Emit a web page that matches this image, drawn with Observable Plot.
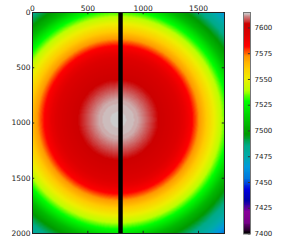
<!DOCTYPE html>
<html>
<head>
<meta charset="utf-8">
<script src="https://cdn.jsdelivr.net/npm/d3@7"></script>
<script src="https://cdn.jsdelivr.net/npm/@observablehq/plot@0.6"></script>
<style>
  body { margin: 0; background: #fff; }
  #wrap { position: relative; width: 287px; height: 246px; }
  #wrap svg { position: absolute; left: 0; top: 0; }
</style>
</head>
<body>
<div id="wrap"></div>
<script>
// ---- data ----
const imageWidth = 1735;
const imageHeight = 2000;
const centerX = 775;
const centerY = 970;
// radial profile: distance from centre -> value
const profileR = [0, 170, 340, 480, 600, 665, 730, 800, 870, 930, 990, 1080, 1180, 1260, 1340, 1420];
const profileV = [7615, 7613, 7605, 7598, 7590, 7583, 7572, 7561, 7550, 7540, 7529, 7507, 7492, 7481, 7468, 7452];
// masked column (drawn black)
const gapColumns = [{x1: 780, x2: 820}];
const xTicks = [0, 500, 1000, 1500];
const yTicks = [0, 500, 1000, 1500, 2000];
const cbTicks = [7400, 7425, 7450, 7475, 7500, 7525, 7550, 7575, 7600];
const vmin = 7400, vmax = 7615;
// nipy_spectral colormap stops
const cmapT = [0,0.05,0.1,0.15,0.2,0.25,0.3,0.35,0.4,0.45,0.5,0.55,0.6,0.65,0.7,0.75,0.8,0.85,0.9,0.95,1];
const cmapColors = ["#000000","#770088","#880099","#0000aa","#0000dd","#0077dd","#0099dd","#00aaaa","#00aa88","#009900","#00bb00","#00dd00","#00ff00","#bbff00","#eeee00","#ffcc00","#ff9900","#ff0000","#dd0000","#cc0000","#cccccc"];

const profile = d3.scaleLinear().domain(profileR).range(profileV);
function quantize(v) {
  const t = (v - vmin) / (vmax - vmin);
  const k = Math.max(0, Math.min(255, Math.floor(t * 256)));
  return vmin + k / 255 * (vmax - vmin);
}
function valueAt(x, y) {
  return quantize(profile(Math.hypot(x - centerX, y - centerY)));
}

const colorScale = {
  type: "linear",
  domain: cmapT.map(t => vmin + t * (vmax - vmin)),
  range: cmapColors,
  interpolate: "rgb"
};
const font = {fontFamily: "DejaVu Sans, sans-serif", fontSize: "7.5px", color: "#222", background: "transparent"};

const main = Plot.plot({
  width: 287, height: 246,
  marginLeft: 32, marginRight: 63, marginTop: 12, marginBottom: 13,
  style: font,
  x: {domain: [0, imageWidth], axis: null},
  y: {domain: [0, imageHeight], reverse: true, axis: null},
  color: colorScale,
  marks: [
    Plot.raster({x1: 0, x2: imageWidth, y1: 0, y2: imageHeight, fill: (x, y) => valueAt(x, y)}),
    Plot.rect(gapColumns, {x1: "x1", x2: "x2", y1: 0, y2: imageHeight, fill: "black"}),
    Plot.ruleX(xTicks, {x: d => d, y1: 0, y2: 20, stroke: "#222"}),
    Plot.ruleX(xTicks, {x: d => d, y1: imageHeight - 20, y2: imageHeight, stroke: "#222"}),
    Plot.ruleY(yTicks, {y: d => d, x1: 0, x2: 20, stroke: "#222"}),
    Plot.ruleY(yTicks, {y: d => d, x1: imageWidth - 20, x2: imageWidth, stroke: "#222"}),
    Plot.frame({stroke: "#222"}),
    Plot.axisX({anchor: "top", ticks: xTicks, tickSize: 0, tickPadding: 2, tickFormat: "d", label: null}),
    Plot.axisY({anchor: "left", ticks: yTicks, tickSize: 0, tickPadding: 2, tickFormat: "d", label: null})
  ]
});

const bar = Plot.plot({
  width: 287, height: 246,
  marginLeft: 243, marginRight: 37, marginTop: 12, marginBottom: 12.5,
  style: {...font, fontSize: "7px"},
  x: {domain: [0, 1], axis: null},
  y: {domain: [vmin, vmax], axis: null},
  color: colorScale,
  marks: [
    Plot.raster({x1: 0, x2: 1, y1: vmin, y2: vmax, fill: (x, y) => quantize(y)}),
    Plot.ruleY(cbTicks, {y: d => d, x1: 0.7, x2: 1, stroke: "#333"}),
    Plot.frame({stroke: "#777"}),
    Plot.axisY({anchor: "right", ticks: cbTicks, tickSize: 0, tickPadding: 4, tickFormat: "d", label: null})
  ]
});

const wrap = document.getElementById("wrap");
wrap.appendChild(main);
wrap.appendChild(bar);
</script>
</body>
</html>
